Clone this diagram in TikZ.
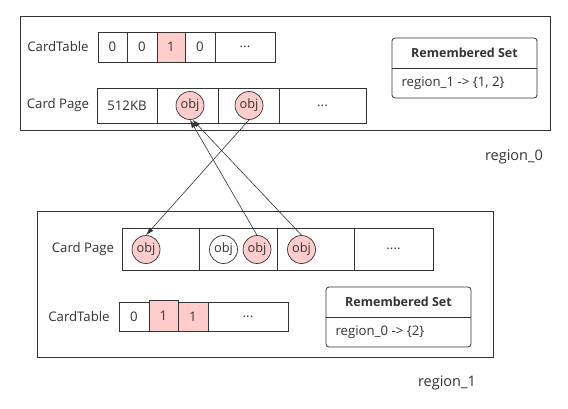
\documentclass[tikz,border=0pt]{standalone}
\usepackage{fontspec}
\setmainfont{Open Sans}
\usetikzlibrary{arrows.meta,shadows}
\definecolor{objpink}{HTML}{FFCCCC}
\definecolor{linegray}{HTML}{333333}

\begin{document}
\begin{tikzpicture}[x=1pt,y=-1pt,
	every node/.style={font=\fontsize{13.2}{15}\selectfont, text=linegray},
	regionbox/.style={draw=linegray, fill=white, line width=0.8pt, inner sep=0pt, drop shadow={shadow xshift=0.9pt, shadow yshift=-0.9pt, fill=gray!70, opacity=1}},
	cell/.style={draw=linegray, line width=0.8pt, inner sep=0pt},
	hot/.style={cell, fill=objpink},
	obj/.style={circle, draw=linegray, fill=objpink, line width=0.7pt, minimum size=28pt, inner sep=0pt, font=\fontsize{12.8}{14}\selectfont},
	rsbox/.style={draw=linegray, line width=0.8pt, rounded corners=3pt, minimum width=145pt, minimum height=60pt, inner sep=0pt},
	rshead/.style={font=\fontsize{12.5}{14}\selectfont\bfseries},
	regionlabel/.style={font=\fontsize{14.5}{16}\selectfont},
	refarrow/.style={-{Latex[length=8pt,width=5pt]}, draw=linegray, line width=0.6pt}]
	\useasboundingbox (0,0) rectangle (568,408);

	\begin{scope} % region_0
		\node[regionbox, minimum width=530pt, minimum height=114pt] (reg0) at (285,73) {};
		\node (ct0) at (58,47) {CardTable};
		\node[cell, minimum width=29pt, minimum height=30pt] (ct0a) at (112.5,47) {0};
		\node[cell, minimum width=30pt, minimum height=30pt] (ct0b) at (142,47) {0};
		\node[hot, minimum width=28pt, minimum height=30pt] (ct0c) at (171,47) {1};
		\node[cell, minimum width=30pt, minimum height=30pt] (ct0d) at (200,47) {0};
		\node[cell, minimum width=60pt, minimum height=30pt] (ct0e) at (245,47) {...};

		\node (cp0) at (58,105.5) {Card Page};
		\node[cell, minimum width=60pt, minimum height=35pt] (cp0a) at (127,105.5) {512KB};
		\node[cell, minimum width=61pt, minimum height=35pt] (cp0b) at (187.5,105.5) {};
		\node[cell, minimum width=61pt, minimum height=35pt] (cp0c) at (248.5,105.5) {};
		\node[cell, minimum width=87pt, minimum height=35pt] (cp0d) at (322.5,105.5) {...};
		\node[obj] (top1) at (190,105.5) {obj};
		\node[obj] (top2) at (249,105.5) {obj};

		\node[rsbox] (rs0) at (464.5,68) {};
		\draw[linegray, line width=0.8pt] (rs0.west) -- (rs0.east);
		\node[rshead] (rs0h) at (464.5,53) {Remembered Set};
		\node[anchor=west] (rs0e) at (398,83) {region\_1 -> \{1, 2\}};

		\node[regionlabel] (lab0) at (514,157) {region\_0};
	\end{scope}

	\begin{scope} % region_1
		\node[regionbox, minimum width=456pt, minimum height=146pt] (reg1) at (265,284) {};
		\node (cp1) at (83,249) {Card Page};
		\node[cell, minimum width=77pt, minimum height=42pt] (cp1a) at (160.5,249) {};
		\node[cell, minimum width=78pt, minimum height=42pt] (cp1b) at (238,249) {};
		\node[cell, minimum width=77pt, minimum height=42pt] (cp1c) at (315.5,249) {};
		\node[cell, minimum width=79pt, minimum height=42pt] (cp1d) at (393.5,249) {....};
		\node[obj] (bot1) at (146,249.5) {obj};
		\node[obj, fill=white] (bot0) at (223.5,249.5) {obj};
		\node[obj] (bot2) at (257,249.5) {obj};
		\node[obj] (bot3) at (301.5,249.5) {obj};

		\node (ct1) at (79,317) {CardTable};
		\node[cell, minimum width=30pt, minimum height=29pt] (ct1a) at (134,316.5) {0};
		\node[hot, minimum width=29pt, minimum height=31pt] (ct1b) at (163.5,315.5) {1};
		\node[hot, minimum width=30pt, minimum height=29pt] (ct1c) at (193,316.5) {1};
		\node[cell, minimum width=80pt, minimum height=29pt] (ct1d) at (248,316.5) {...};

		\node[rsbox] (rs1) at (398.5,317) {};
		\draw[linegray, line width=0.8pt] (rs1.west) -- (rs1.east);
		\node[rshead] (rs1h) at (398.5,302) {Remembered Set};
		\node[anchor=west] (rs1e) at (332,332) {region\_0 -> \{2\}};

		\node[regionlabel] (lab1) at (447,383) {region\_1};
	\end{scope}

	\draw[refarrow] (top2.south) -- (bot1.north); % 0 -> 1
	\draw[refarrow] (bot2.north) -- (top1.south); % 1 -> 0
	\draw[refarrow] (bot3.north) -- (top1.-80); % 1 -> 0
\end{tikzpicture}
\end{document}
